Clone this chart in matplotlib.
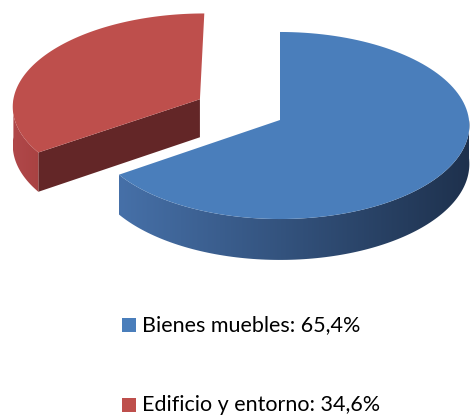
import numpy as np
import matplotlib
matplotlib.use('Agg')
import matplotlib.pyplot as plt
from matplotlib.patches import Polygon, Rectangle
from matplotlib.colors import LinearSegmentedColormap

labels = ['Bienes muebles', 'Edificio y entorno']
values = [65.4, 34.6]
explode = [0.0, 0.485]
top_colors = ['#4A7EBB', '#BE4F4C']
wall_colors = [('#4670A8', '#1E314D'), ('#B0484A', '#A94242')]
face_colors = ['#2E4A70', '#632627']

# camera / layout (pixels)
cx, cy = 280, 120
rx, ry = 189, 93.2
k = 0.0588
h = 38.5


def proj(X, Y, Z=0.0):
    w = 1 + k * Y
    return cx + rx * X / w, cy - (ry * Y - h * Z) / w


def arc(a0, a1, ox, oy, z, n=120):
    t = np.radians(np.linspace(a0, a1, n))
    return proj(ox + np.cos(t), oy + np.sin(t), z)


def cut_face(a, ox, oy, i):
    t = np.radians(a)
    p = [proj(ox, oy, 0), proj(ox + np.cos(t), oy + np.sin(t), 0),
         proj(ox + np.cos(t), oy + np.sin(t), 1), proj(ox, oy, 1)]
    ax.add_patch(Polygon(p, closed=True, fc=face_colors[i], ec='none', zorder=2))


fig = plt.figure(figsize=(4.70, 4.16), dpi=100)
ax = fig.add_axes([0, 0, 1, 1])
ax.set_xlim(0, 470)
ax.set_ylim(416, 0)
ax.axis('off')

# angles: blue goes clockwise from 12 o'clock, red fills the rest
fracs = np.array(values) / sum(values)
ang = 90 - 360 * np.cumsum(np.concatenate(([0], fracs)))
slices = []
for i in range(len(values)):
    a_hi, a_lo = ang[i], ang[i + 1]
    mid = np.radians((a_hi + a_lo) / 2)
    ox, oy = explode[i] * np.cos(mid), explode[i] * np.sin(mid)
    slices.append((a_lo, a_hi, ox, oy))

# draw back slice (red) first, then front (blue)
for i in [1, 0]:
    a_lo, a_hi, ox, oy = slices[i]
    # cut faces that face the viewer
    if np.sin(np.radians(a_lo - 90)) < -1e-6:
        cut_face(a_lo, ox, oy, i)
    if np.sin(np.radians(a_hi + 90)) < -1e-6:
        cut_face(a_hi, ox, oy, i)
    # outer wall (visible part: sin < 0)
    lo = a_lo % 360
    hi = lo + (a_hi - a_lo)
    w0, w1 = max(lo, 180), min(hi, 360)
    if w1 > w0:
        xt, yt = arc(w0, w1, ox, oy, 0)
        xb, yb = arc(w1, w0, ox, oy, 1)
        wall = Polygon(np.column_stack([np.r_[xt, xb], np.r_[yt, yb]]), closed=True,
                       fc='none', ec='none', zorder=2)
        ax.add_patch(wall)
        cmap = LinearSegmentedColormap.from_list('w%d' % i, wall_colors[i])
        x0, x1 = min(xt.min(), xb.min()), max(xt.max(), xb.max())
        y0, y1 = min(yt.min(), yb.min()), max(yt.max(), yb.max())
        im = ax.imshow(np.linspace(0, 1, 256)[None, :], cmap=cmap, aspect='auto',
                       extent=[x0, x1, y1, y0], zorder=2, interpolation='bilinear')
        im.set_clip_path(wall)
    # top surface
    xt, yt = arc(a_lo, a_hi, ox, oy, 0)
    px, py = proj(ox, oy, 0)
    ax.add_patch(Polygon(np.column_stack([np.r_[px, xt], np.r_[py, yt]]), closed=True,
                         fc=top_colors[i], ec='none', zorder=3))

ax.set_xlim(0, 470)
ax.set_ylim(416, 0)

# legend
leg_y = [325, 405]
for i in range(len(labels)):
    ax.add_patch(Rectangle((122, leg_y[i] - 7), 14, 14, fc=top_colors[i], ec='none', zorder=4))
    ax.text(142, leg_y[i], '%s: %s%%' % (labels[i], ('%.1f' % values[i]).replace('.', ',')),
            fontsize=15.5, family='Lato', va='center', ha='left', color='#000000')

fig.savefig('out.png', dpi=100)
